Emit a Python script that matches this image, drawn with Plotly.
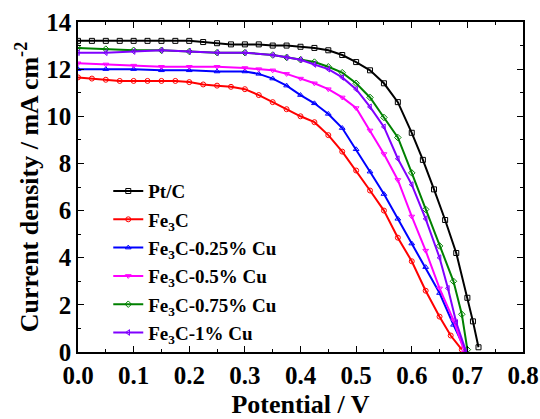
import plotly.graph_objects as go

# Pt/C
v_ptc = [0, 0.025, 0.05, 0.075, 0.1, 0.125, 0.15, 0.175, 0.2, 0.225, 0.25, 0.275, 0.3, 0.325, 0.35, 0.375,
         0.4, 0.425, 0.45, 0.475, 0.5, 0.525, 0.55, 0.575, 0.6, 0.62, 0.64, 0.66, 0.68, 0.7, 0.71, 0.72]
j_ptc = [13.2, 13.2, 13.2, 13.2, 13.2, 13.2, 13.2, 13.2, 13.2, 13.15, 13.1, 13.05, 13.05, 13.05, 13.0, 13.0,
         12.95, 12.9, 12.8, 12.6, 12.3, 11.95, 11.4, 10.6, 9.3, 8.15, 6.9, 5.6, 4.2, 2.3, 1.3, 0.2]

# Fe3C
v_fe3c = [0, 0.025, 0.05, 0.075, 0.1, 0.125, 0.15, 0.175, 0.2, 0.225, 0.25, 0.275, 0.3, 0.325, 0.35, 0.375,
          0.4, 0.425, 0.45, 0.475, 0.5, 0.525, 0.55, 0.575, 0.6, 0.625, 0.65, 0.67, 0.69]
j_fe3c = [11.65, 11.6, 11.55, 11.5, 11.5, 11.5, 11.5, 11.5, 11.45, 11.35, 11.3, 11.25, 11.15, 10.9, 10.6, 10.3,
          10.0, 9.75, 9.2, 8.5, 7.7, 6.85, 6.0, 4.85, 3.85, 2.6, 1.5, 0.7, 0.1]

# Fe3C-0.25% Cu
v_cu025 = [0, 0.05, 0.1, 0.15, 0.2, 0.25, 0.3, 0.325, 0.35, 0.375, 0.4, 0.425, 0.45, 0.475, 0.5, 0.525,
           0.55, 0.575, 0.6, 0.625, 0.65, 0.675, 0.698]
j_cu025 = [12.0, 12.0, 12.0, 11.95, 11.95, 11.9, 11.9, 11.8, 11.6, 11.3, 10.9, 10.55, 10.1, 9.5, 8.6, 7.65,
           6.7, 5.65, 4.6, 3.6, 2.5, 1.15, 0.0]

# Fe3C-0.5% Cu
v_cu05 = [0, 0.05, 0.1, 0.15, 0.2, 0.25, 0.3, 0.325, 0.35, 0.375, 0.4, 0.425, 0.45, 0.475, 0.5, 0.525,
          0.55, 0.575, 0.6, 0.625, 0.65, 0.675, 0.695]
j_cu05 = [12.25, 12.2, 12.15, 12.1, 12.1, 12.1, 12.05, 12.0, 11.95, 11.8, 11.6, 11.4, 11.15, 10.8, 10.35, 9.4,
          8.4, 7.3, 5.75, 4.3, 2.7, 1.35, 0.0]

# Fe3C-0.75% Cu
v_cu075 = [0, 0.05, 0.1, 0.15, 0.2, 0.25, 0.3, 0.35, 0.375, 0.4, 0.425, 0.45, 0.475, 0.5, 0.525, 0.55,
           0.575, 0.6, 0.625, 0.65, 0.675, 0.69, 0.70]
j_cu075 = [12.9, 12.85, 12.8, 12.8, 12.75, 12.7, 12.7, 12.6, 12.5, 12.4, 12.3, 12.1, 11.85, 11.4, 10.8, 9.95,
           9.1, 7.6, 6.05, 4.5, 3.0, 1.6, 0.1]

# Fe3C-1% Cu
v_cu1 = [0, 0.05, 0.1, 0.15, 0.2, 0.25, 0.3, 0.35, 0.375, 0.4, 0.425, 0.45, 0.475, 0.5, 0.525, 0.55,
         0.575, 0.6, 0.625, 0.65, 0.665, 0.68, 0.698]
j_cu1 = [12.7, 12.7, 12.75, 12.8, 12.75, 12.7, 12.7, 12.6, 12.5, 12.4, 12.2, 12.0, 11.65, 11.15, 10.4, 9.55,
         8.2, 7.1, 5.65, 4.0, 2.7, 1.25, 0.0]

series = [
    ("Pt/C", v_ptc, j_ptc, "#000000", "square-open"),
    ("Fe<sub>3</sub>C", v_fe3c, j_fe3c, "#FF0000", "circle-open"),
    ("Fe<sub>3</sub>C-0.25% Cu", v_cu025, j_cu025, "#0000FF", "triangle-up-open"),
    ("Fe<sub>3</sub>C-0.5% Cu", v_cu05, j_cu05, "#FF00FF", "triangle-down-open"),
    ("Fe<sub>3</sub>C-0.75% Cu", v_cu075, j_cu075, "#008000", "diamond-open"),
    ("Fe<sub>3</sub>C-1% Cu", v_cu1, j_cu1, "#8000FF", "triangle-left-open"),
]

x_ticks = [0, 0.1, 0.2, 0.3, 0.4, 0.5, 0.6, 0.7, 0.8]
x_ticklabels = ["0.0", "0.1", "0.2", "0.3", "0.4", "0.5", "0.6", "0.7", "0.8"]
y_ticks = [0, 2, 4, 6, 8, 10, 12, 14]

fig = go.Figure()
for i, (name, v, j, color, sym) in enumerate(series):
    fig.add_trace(go.Scatter(
        x=v, y=j, name=name, mode="lines+markers", legendgroup=f"g{i}",
        line=dict(color=color, width=2),
        marker=dict(symbol=sym, size=5, color=color, line=dict(width=1, color=color)),
    ))

font_family = "Liberation Serif, Times New Roman, serif"
axis_common = dict(
    showline=True, linecolor="black", linewidth=1.5, mirror="allticks",
    ticks="inside", ticklen=6, tickwidth=1, tickcolor="black",
    showgrid=False, zeroline=False, automargin=False,
    tickfont=dict(family=font_family, size=25, color="black", weight="bold"),
)

fig.update_layout(
    width=540, height=419,
    margin=dict(l=78, r=17, t=22, b=67),
    plot_bgcolor="white", paper_bgcolor="white",
    showlegend=True,
    legend=dict(
        x=0.068, y=0.545, xanchor="left", yanchor="top",
        bgcolor="rgba(0,0,0,0)", tracegroupgap=0.6,
        font=dict(family=font_family, size=19, color="black", weight="bold"),
    ),
    xaxis=dict(
        range=[0, 0.8], tickvals=x_ticks, ticktext=x_ticklabels,
        minor=dict(ticks="inside", dtick=0.05, ticklen=3, tickcolor="black"),
        title=dict(text="Potential / V", standoff=24,
                   font=dict(family=font_family, size=26, color="black", weight="bold")),
        **axis_common,
    ),
    yaxis=dict(
        range=[0, 14], tickvals=y_ticks,
        minor=dict(ticks="inside", dtick=1, ticklen=3, tickcolor="black"),
        title=dict(text="Current density / mA cm<sup>-2</sup>", standoff=0,
                   font=dict(family=font_family, size=26, color="black", weight="bold")),
        **axis_common,
    ),
)

fig.write_html("out.html", config={"displayModeBar": False},
               post_script="document.body.style.margin='0px';")
